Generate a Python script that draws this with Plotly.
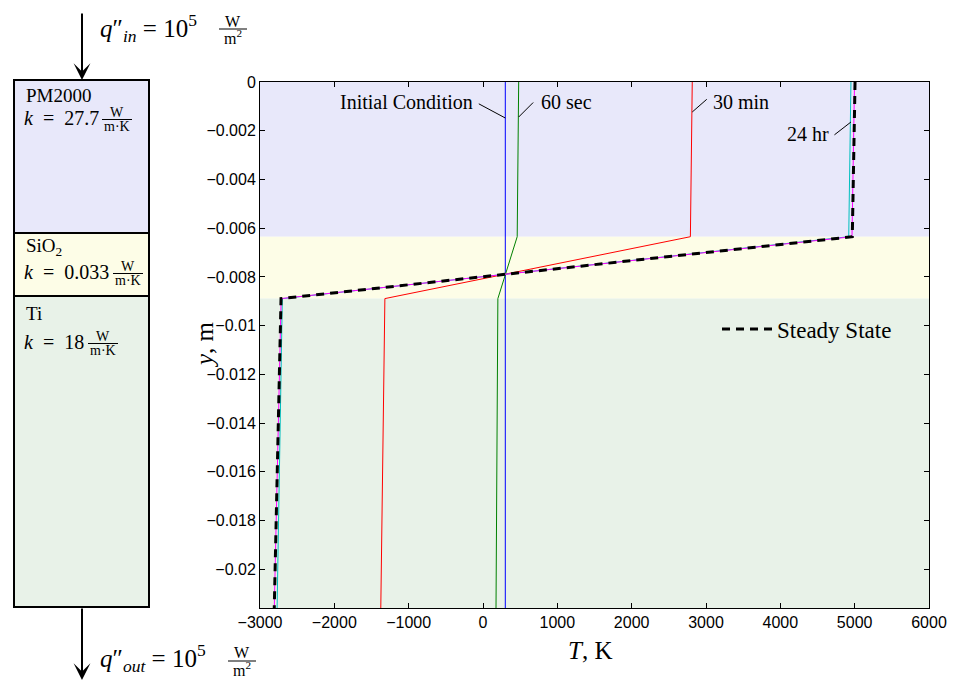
import plotly.graph_objects as go

# ---------------- data ----------------
depth = [0, -0.00635, -0.00889, -0.02159]          # layer interfaces, m
layer_names = ["PM2000", "SiO<sub>2</sub>", "Ti"]
layer_k = ["27.7", "0.033", "18"]
layer_colors = ["#e8e8fa", "#fdfde7", "#e8f2e8"]

T_initial = [300, 300, 300, 300]
T_60s = [480, 460, 200, 175]
T_30min = [2815, 2790, -1320, -1375]
T_24hr = [4950, 4920, -2700, -2770]
T_48hr = [4998, 4964, -2716, -2808]
T_steady = [5005, 4968, -2717, -2808]

series = [
    ("Initial Condition", T_initial, "#0000ff"),
    ("60 sec", T_60s, "#008000"),
    ("30 min", T_30min, "#ff0000"),
    ("24 hr", T_24hr, "#00bfbf"),
    ("48 hr", T_48hr, "#ff00ff"),
]

x_ticks = [-3000, -2000, -1000, 0, 1000, 2000, 3000, 4000, 5000, 6000]
y_ticks = [0, -0.002, -0.004, -0.006, -0.008, -0.01, -0.012, -0.014,
           -0.016, -0.018, -0.02]
y_ticktext = ["0" if v == 0 else "\u2212" + ("%g" % -v) for v in y_ticks]
x_ticktext = [("\u2212%d" % -v) if v < 0 else "%d" % v for v in x_ticks]

# ---------------- layout geometry (pixels) ----------------
W, H = 953, 685
L, R, TOP, BOT = 260, 929, 82, 608


def px(x):
    return x / W


def py(y):
    return (H - y) / H


SERIF = "Liberation Serif"
SANS = "Liberation Sans"
NB = "&nbsp;"

fig = go.Figure()

for name, vals, col in series:
    fig.add_trace(go.Scatter(x=vals, y=depth, mode="lines", name=name,
                             line=dict(color=col, width=1), showlegend=False))

fig.add_trace(go.Scatter(x=T_steady, y=depth, mode="lines", name="Steady State",
                         line=dict(color="black", width=3, dash="8px,6px"),
                         showlegend=True))

shapes = []
annotations = []

# background layer bands in the plot
for i in range(3):
    shapes.append(dict(type="rect", xref="x domain", yref="y", x0=0, x1=1,
                       y0=depth[i + 1], y1=depth[i], fillcolor=layer_colors[i],
                       line=dict(width=0), layer="below"))

# left schematic of the layered wall
box_y = [80, 233, 296, 607]
for i in range(3):
    shapes.append(dict(type="rect", xref="paper", yref="paper",
                       x0=px(14), x1=px(149), y0=py(box_y[i + 1]), y1=py(box_y[i]),
                       fillcolor=layer_colors[i], line=dict(color="black", width=2)))

# layer labels: (name center y, k baseline y, fraction center x)
label_pos = [(95, 124, 117), (247, 278, 128), (314, 348, 103)]
for i, (ny, base, fx) in enumerate(label_pos):
    annotations.append(dict(xref="paper", yref="paper", x=px(24), y=py(ny),
                            xanchor="left", yanchor="middle", showarrow=False,
                            text=layer_names[i],
                            font=dict(family=SERIF, size=19, color="black")))
    annotations.append(dict(xref="paper", yref="paper", x=px(22), y=py(base - 6),
                            xanchor="left", yanchor="middle", showarrow=False,
                            text="<i>k</i>" + NB + NB + "=" + NB + NB + layer_k[i],
                            font=dict(family=SERIF, size=20, color="black")))
    bar = base - 4.5
    annotations.append(dict(xref="paper", yref="paper", x=px(fx), y=py(bar - 7),
                            xanchor="center", yanchor="middle", showarrow=False,
                            text="W", font=dict(family=SERIF, size=14, color="black")))
    annotations.append(dict(xref="paper", yref="paper", x=px(fx), y=py(bar + 7),
                            xanchor="center", yanchor="middle", showarrow=False,
                            text="m\u00b7K", font=dict(family=SERIF, size=14, color="black")))
    shapes.append(dict(type="line", xref="paper", yref="paper",
                       x0=px(fx - 15), x1=px(fx + 15), y0=py(bar), y1=py(bar),
                       line=dict(color="black", width=1)))

# heat flux arrows
for tip, tail in [(80, 12), (680, 607)]:
    annotations.append(dict(xref="paper", yref="paper", x=px(82), y=py(tip),
                            ax=0, ay=tail - tip, text="", showarrow=True,
                            arrowhead=3, arrowsize=1.4, arrowwidth=2,
                            arrowcolor="black"))

# heat flux labels
for sub, cy, wy, bary, my, fx in [("in", 28, 21, 29, 37, 233),
                                    ("out", 658, 652, 661, 669, 242)]:
    annotations.append(dict(xref="paper", yref="paper", x=px(98), y=py(cy),
                            xanchor="left", yanchor="middle", showarrow=False,
                            text="<i>q</i>\u2033<sub><i>" + sub + "</i></sub> = 10<sup>5</sup>",
                            font=dict(family=SERIF, size=25, color="black")))
    annotations.append(dict(xref="paper", yref="paper", x=px(fx), y=py(wy),
                            xanchor="center", yanchor="middle", showarrow=False,
                            text="W", font=dict(family=SERIF, size=16, color="black")))
    annotations.append(dict(xref="paper", yref="paper", x=px(fx), y=py(my),
                            xanchor="center", yanchor="middle", showarrow=False,
                            text="m<sup>2</sup>", font=dict(family=SERIF, size=16, color="black")))
    shapes.append(dict(type="line", xref="paper", yref="paper",
                       x0=px(fx - 14), x1=px(fx + 14), y0=py(bary), y1=py(bary),
                       line=dict(color="black", width=1)))

# curve labels with leader lines:
# (text, curve x at tip, tip y, leader offset ax/ay, text anchor, text shift x/y)
curve_labels = [
    ("Initial Condition", T_initial[0], -0.001478, -28, -15, "right", -30, 16),
    ("60 sec", T_60s[0], -0.001437, 16, -16, "left", 20, 15),
    ("30 min", T_30min[0], -0.001231, 16, -14, "left", 19, 10),
    ("24 hr", T_24hr[0], -0.001642, -18, 14, "right", -20, -12),
]
for text, xv, yv, ax, ay, anchor, xs, ys in curve_labels:
    annotations.append(dict(xref="x", yref="y", x=xv, y=yv, ax=ax, ay=ay,
                            text="", showarrow=True, arrowhead=0, arrowwidth=1,
                            arrowcolor="black"))
    annotations.append(dict(xref="x", yref="y", x=xv, y=yv, xshift=xs, yshift=ys,
                            xanchor=anchor, yanchor="middle", showarrow=False,
                            text=text,
                            font=dict(family=SERIF, size=20, color="black")))

# axis titles
annotations.append(dict(xref="paper", yref="paper", x=px(205), y=py(345),
                        text="<i>y</i>, m", textangle=-90, showarrow=False,
                        xanchor="center", yanchor="middle",
                        font=dict(family=SERIF, size=25, color="black")))
annotations.append(dict(xref="paper", yref="paper", x=px(590), y=py(650),
                        text="<i>T</i>, K", showarrow=False,
                        xanchor="center", yanchor="middle",
                        font=dict(family=SERIF, size=25, color="black")))

axis_common = dict(showline=True, linecolor="black", linewidth=1, mirror="ticks",
                   ticks="inside", ticklen=5, tickwidth=1, tickcolor="black",
                   showgrid=False, zeroline=False, automargin=False,
                   tickfont=dict(family=SANS, size=16, color="black"))

fig.update_layout(
    width=W, height=H,
    margin=dict(l=0, r=0, t=0, b=0, pad=0),
    paper_bgcolor="white", plot_bgcolor="white",
    xaxis=dict(domain=[px(L), px(R)], range=[-3000, 6000], tickvals=x_ticks,
               ticktext=x_ticktext, **axis_common),
    yaxis=dict(domain=[py(BOT), py(TOP)], range=[depth[-1], 0], tickvals=y_ticks,
               ticktext=y_ticktext, **axis_common),
    shapes=shapes, annotations=annotations,
    legend=dict(x=px(717), y=py(329), xanchor="left", yanchor="middle",
                bgcolor="rgba(0,0,0,0)", borderwidth=0, itemwidth=50,
                font=dict(family=SERIF, size=23, color="black")),
)

fig.write_html("out.html")
